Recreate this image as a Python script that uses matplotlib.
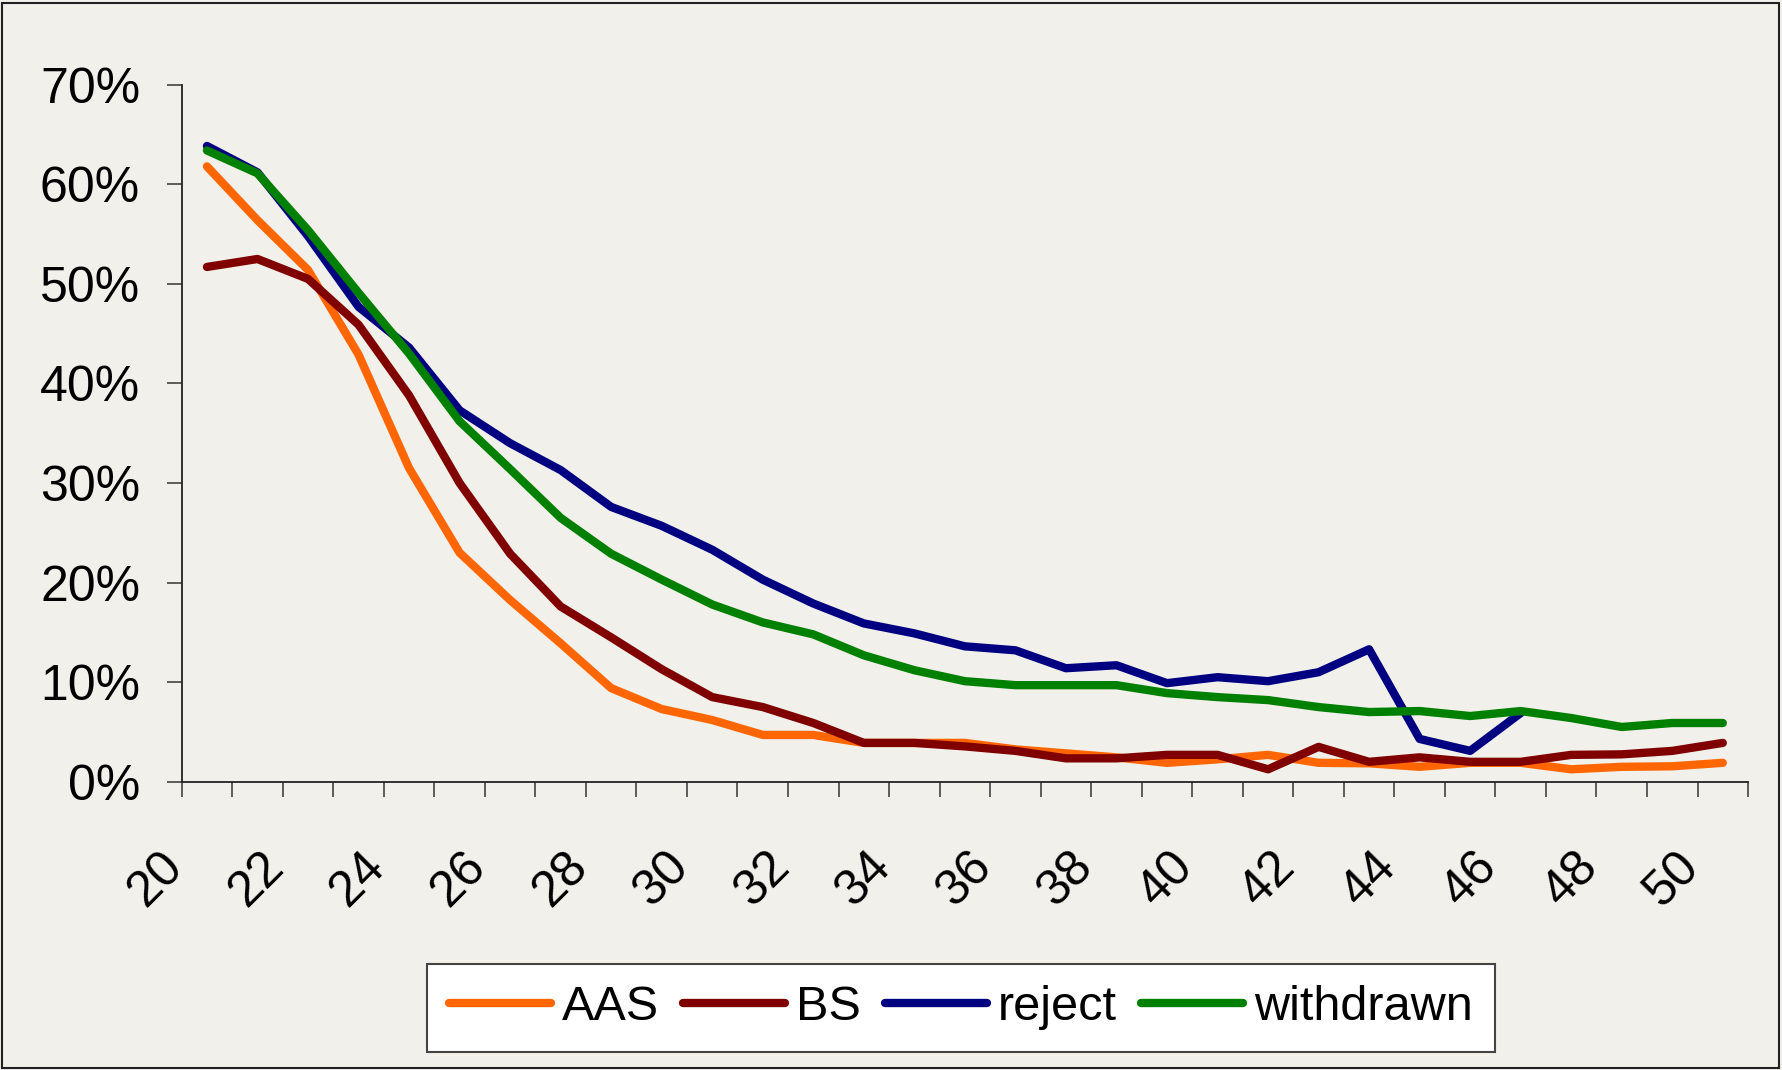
import numpy as np
import matplotlib
matplotlib.use('Agg')
import matplotlib.pyplot as plt
from matplotlib.patches import Rectangle
from matplotlib.transforms import ScaledTranslation
from matplotlib.ticker import PercentFormatter

# ages on the category axis
ages = list(range(20, 51))

# shares in percent
aas = [61.8, 56.4, 51.4, 42.9, 31.5, 23.0, 18.25, 13.9, 9.4, 7.3, 6.2, 4.7, 4.7, 3.9, 3.9, 3.9,
       3.25, 2.85, 2.45, 1.9, 2.25, 2.7, 1.9, 1.85, 1.5, 1.9, 1.9, 1.25, 1.5, 1.55, 1.9]
bs = [51.7, 52.5, 50.5, 45.9, 38.8, 30.0, 22.9, 17.6, 14.5, 11.3, 8.5, 7.5, 5.9, 3.9, 3.9, 3.55,
      3.1, 2.35, 2.35, 2.7, 2.7, 1.25, 3.5, 2.0, 2.45, 2.0, 2.0, 2.7, 2.75, 3.1, 3.9]
reject = [63.85, 61.2, 54.8, 47.7, 43.6, 37.3, 34.0, 31.3, 27.6, 25.7, 23.3, 20.3, 17.9, 15.9, 14.9, 13.6,
          13.2, 11.4, 11.7, 9.9, 10.5, 10.1, 11.0, 13.3, 4.3, 3.1, 6.9, np.nan, np.nan, np.nan, np.nan]
withdrawn = [63.4, 61.1, 55.4, 49.1, 43.0, 36.2, 31.4, 26.5, 22.9, 20.3, 17.8, 16.0, 14.8, 12.7, 11.2, 10.1,
             9.7, 9.7, 9.7, 8.9, 8.5, 8.2, 7.5, 7.0, 7.1, 6.6, 7.1, 6.4, 5.5, 5.9, 5.9]

series = [('AAS', aas, '#FF6600'), ('BS', bs, '#800000'),
          ('reject', reject, '#000080'), ('withdrawn', withdrawn, '#008000')]

bg = '#F2F0EB'
plt.rcParams['font.family'] = ['Liberation Sans', 'DejaVu Sans']

fig = plt.figure(figsize=(17.83, 10.70), dpi=100, facecolor=bg)
ax = fig.add_axes([0.1019, 0.2694, 0.8785, 0.6514])
ax.set_facecolor(bg)

x = np.arange(len(ages))
for name, vals, col in series:
    ax.plot(x, np.array(vals) / 100.0, color=col, linewidth=6.0, label=name,
            solid_capstyle='round', solid_joinstyle='round')

ax.set_xlim(-0.5, len(ages) - 0.5)
ax.set_ylim(0, 0.7)
ax.set_yticks(np.arange(0, 0.71, 0.1))
ax.yaxis.set_major_formatter(PercentFormatter(1.0, decimals=0))

# category boundaries get the tick marks, every second age gets a label
ax.set_xticks(np.arange(-0.5, len(ages), 1.0))
ax.set_xticklabels([])
ax.set_xticks(x[::2], minor=True)
ax.set_xticklabels([str(a) for a in ages[::2]], minor=True, rotation=45,
                   ha='right', va='center', rotation_mode='anchor')
ax.tick_params(axis='x', which='major', length=11, width=1.1, color='#333333', direction='out')
ax.tick_params(axis='x', which='minor', length=0, pad=56, labelsize=36)
ax.tick_params(axis='y', length=11, width=1.1, color='#333333', direction='out', pad=19, labelsize=36)
off = ScaledTranslation(-0.31, 0, fig.dpi_scale_trans)
for lbl in ax.get_xticklabels(minor=True):
    lbl.set_transform(lbl.get_transform() + off)

for s in ['top', 'right']:
    ax.spines[s].set_visible(False)
for s in ['left', 'bottom']:
    ax.spines[s].set_color('#222222')
    ax.spines[s].set_linewidth(1.3)

leg = fig.legend(loc='center', bbox_to_anchor=(0.539, 0.058), ncol=4, fontsize=35,
                 frameon=True, fancybox=False, facecolor='white', edgecolor='#444444',
                 handlelength=2.1, handletextpad=0.22, columnspacing=0.5,
                 borderpad=0.45, borderaxespad=0)
leg.get_frame().set_linewidth(1.5)
leg.get_frame().set_alpha(1)

# thin border round the whole chart
fig.patches.append(Rectangle((0.001, 0.002), 0.997, 0.995, transform=fig.transFigure,
                             fill=False, edgecolor='#222222', linewidth=1.5))

plt.savefig('out.png', dpi=100, facecolor=bg)
